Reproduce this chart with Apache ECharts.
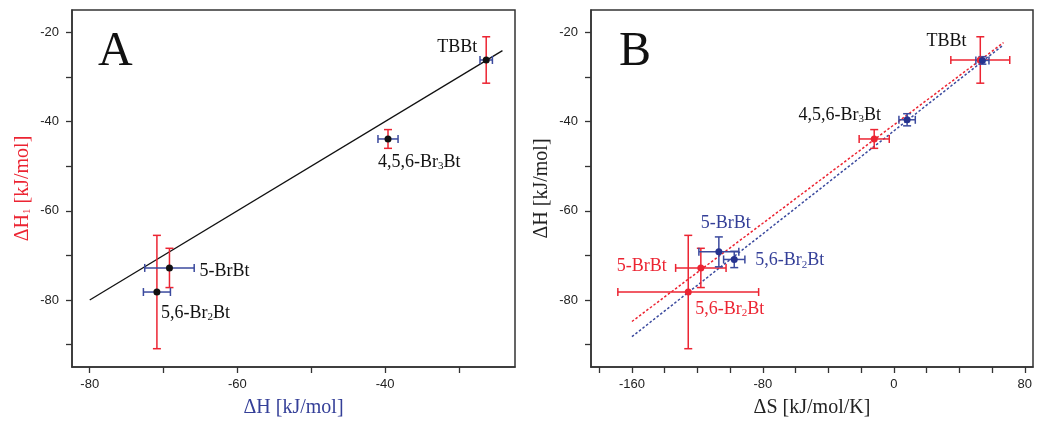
<!DOCTYPE html>
<html><head><meta charset="utf-8">
<script src="https://cdn.jsdelivr.net/npm/echarts@6/dist/echarts.min.js"></script>
<style>html,body{margin:0;padding:0;background:#fff}#c{width:1042px;height:423px}</style>
</head><body><div id="c"></div>
<script>
// ---------- data ----------
const compounds = ['TBBt', '4,5,6-Br{s|3}Bt', '5-BrBt', '5,6-Br{s|2}Bt'];
// Panel A: x = ΔH (blue), y = ΔH1 (red)
const dH     = [-26.3, -39.6, -69.2, -70.9];
const dHErr  = [0.84, 1.36, 3.35, 1.83];
const dH1    = [-26.2, -43.9, -72.8, -78.2];
const dH1Err = [5.2, 2.1, 4.4, 12.7];
// Panel B: red = (ΔS1, ΔH1), blue = (ΔS, ΔH)
const dS1    = [52.8, -12.0, -117.9, -125.6];
const dS1Err = [18, 9.2, 15.4, 43];
const dS     = [54.1, 8.1, -106.9, -97.5];
const dSErr  = [4, 5, 12.2, 6.5];
// fitted lines
const fitA_x = [-80, -24.1];
const fitA_y = [-80, -24.1];
const fitRed_x = [-160, 67];
const fitRed_y = [-84.8, -22.3];
const fitBlue_x = [-160, 67];
const fitBlue_y = [-88.2, -22.8];
// ticks
const ticksAx  = [-80, -70, -60, -50, -40, -30];
const labelsAx = [-80, -60, -40];
const ticksY   = [-90, -80, -70, -60, -50, -40, -30, -20];
const labelsY  = [-80, -60, -40, -20];
const ticksBx  = [-180, -160, -140, -120, -100, -80, -60, -40, -20, 0, 20, 40, 60, 80];
const labelsBx = [-160, -80, 0, 80];

// ---------- styles ----------
const RED = '#ec2432', BLUE = '#3b4a9e', BLUE_PT = '#26338f', BLUE_TXT = '#343f98';
const SERIF = 'Liberation Serif';
const SANS = 'Liberation Sans';

function richFor(color) {
  return { s: { fontSize: 11, fontFamily: SERIF, color: color, verticalAlign: 'bottom', lineHeight: 12,
    textBorderWidth: 0, textBorderColor: 'transparent' } };
}
function lbl(color, align, offset) {
  return { show: true, position: 'inside', align: align, verticalAlign: 'middle', offset: offset,
    formatter: p => p.data.name, color: color, fontFamily: SERIF, fontSize: 18, lineHeight: 20,
    opacity: 1, textBorderWidth: 0, textBorderColor: 'transparent', textShadowBlur: 0,
    rich: richFor(color) };
}
// label placement per compound (layout only)
const placeA = [['right', [-9, -13]], ['left', [-10, 23]], ['left', [30, 3]], ['left', [4, 21]]];
const placeBred = [null, null, ['right', [-34, -2]], ['left', [7, 17]]];
const placeBblue = [['right', [-16, -19]], ['right', [-26, -5]], ['center', [7, -29]], ['left', [21, 1]]];
const colBblue = ['#111', '#111', BLUE_TXT, BLUE_TXT];

function errRender(dir, color) {
  return function (params, api) {
    const x = api.value(0), y = api.value(1), e = api.value(2);
    let p1, p2;
    if (dir === 'v') { p1 = api.coord([x, y - e]); p2 = api.coord([x, y + e]); }
    else { p1 = api.coord([x - e, y]); p2 = api.coord([x + e, y]); }
    const st = { stroke: color, lineWidth: 1.5 };
    const c = 4;
    const ch = [{ type: 'line', shape: { x1: p1[0], y1: p1[1], x2: p2[0], y2: p2[1] }, style: st }];
    [p1, p2].forEach(p => {
      if (dir === 'v') ch.push({ type: 'line', shape: { x1: p[0] - c, y1: p[1], x2: p[0] + c, y2: p[1] }, style: st });
      else ch.push({ type: 'line', shape: { x1: p[0], y1: p[1] - c, x2: p[0], y2: p[1] + c }, style: st });
    });
    return { type: 'group', children: ch };
  };
}
function errSeries(gi, xs, ys, es, dir, color) {
  return { type: 'custom', xAxisIndex: gi, yAxisIndex: gi, renderItem: errRender(dir, color),
    encode: { x: 0, y: 1 }, data: xs.map((x, i) => [x, ys[i], es[i]]), z: 3, silent: true };
}
function lineSeries(gi, xs, ys, color, type, w) {
  return { type: 'line', xAxisIndex: gi, yAxisIndex: gi, data: xs.map((x, i) => [x, ys[i]]),
    showSymbol: false, symbol: 'none', lineStyle: { color: color, width: w, type: type }, z: 2, silent: true };
}

function xAxisCfg(gi, min, max, ticks, labels, name, nameColor) {
  return { type: 'value', gridIndex: gi, min: min, max: max,
    axisLine: { show: true, onZero: false, lineStyle: { color: '#333', width: 1.5 } },
    axisTick: { show: true, inside: false, length: 6, customValues: ticks, lineStyle: { color: '#333', width: 1.3 } },
    axisLabel: { show: true, customValues: labels, margin: 11, color: '#222', fontFamily: SANS, fontSize: 13 },
    splitLine: { show: false },
    name: name, nameLocation: 'middle', nameGap: 31,
    nameTextStyle: { color: nameColor, fontFamily: SERIF, fontSize: 20, rich: richFor(nameColor) } };
}
function yAxisCfg(gi, name, nameColor) {
  return { type: 'value', gridIndex: gi, min: -95, max: -15,
    axisLine: { show: true, onZero: false, lineStyle: { color: '#333', width: 1.5 } },
    axisTick: { show: true, inside: false, length: 6, customValues: ticksY, lineStyle: { color: '#333', width: 1.3 } },
    axisLabel: { show: true, customValues: labelsY, margin: 13, color: '#222', fontFamily: SANS, fontSize: 13 },
    splitLine: { show: false },
    name: name, nameLocation: 'middle', nameGap: 39, nameRotate: 90,
    nameTextStyle: { color: nameColor, fontFamily: SERIF, fontSize: 20, rich: richFor(nameColor) } };
}

const option = {
  animation: false,
  backgroundColor: '#fff',
  grid: [
    { left: 72, top: 10, width: 443, height: 359, show: true, borderColor: '#333', borderWidth: 1.5, backgroundColor: 'transparent' },
    { left: 591, top: 10, width: 442, height: 359, show: true, borderColor: '#333', borderWidth: 1.5, backgroundColor: 'transparent' }
  ],
  xAxis: [
    xAxisCfg(0, -82.4, -22.4, ticksAx, labelsAx, 'ΔH [kJ/mol]', BLUE_TXT),
    xAxisCfg(1, -185, 85, ticksBx, labelsBx, 'ΔS [kJ/mol/K]', '#222')
  ],
  yAxis: [
    yAxisCfg(0, 'ΔH{s|1} [kJ/mol]', RED),
    yAxisCfg(1, 'ΔH [kJ/mol]', '#222')
  ],
  graphic: [
    { type: 'text', left: 98, top: 28, style: { text: 'A', font: '48px "Liberation Serif"', fill: '#111' } },
    { type: 'text', left: 619, top: 28, style: { text: 'B', font: '48px "Liberation Serif"', fill: '#111' } }
  ],
  series: [
    // Panel A
    lineSeries(0, fitA_x, fitA_y, '#111', 'solid', 1.3),
    errSeries(0, dH, dH1, dH1Err, 'v', RED),
    errSeries(0, dH, dH1, dHErr, 'h', BLUE),
    { type: 'scatter', xAxisIndex: 0, yAxisIndex: 0, symbol: 'circle', symbolSize: 7, z: 5,
      itemStyle: { color: '#111', opacity: 1 },
      data: dH.map((x, i) => ({ name: compounds[i], value: [x, dH1[i]], label: lbl('#111', placeA[i][0], placeA[i][1]) })) },
    // Panel B
    lineSeries(1, fitRed_x, fitRed_y, RED, [2.5, 2], 1.5),
    lineSeries(1, fitBlue_x, fitBlue_y, BLUE, [2.5, 2], 1.5),
    errSeries(1, dS1, dH1, dH1Err, 'v', RED),
    errSeries(1, dS1, dH1, dS1Err, 'h', RED),
    errSeries(1, dS, dH, dHErr, 'v', BLUE),
    errSeries(1, dS, dH, dSErr, 'h', BLUE),
    { type: 'scatter', xAxisIndex: 1, yAxisIndex: 1, symbol: 'circle', symbolSize: 7, z: 5,
      itemStyle: { color: RED, opacity: 1 },
      data: dS1.map((x, i) => ({ name: compounds[i], value: [x, dH1[i]],
        label: placeBred[i] ? lbl(RED, placeBred[i][0], placeBred[i][1]) : { show: false } })) },
    { type: 'scatter', xAxisIndex: 1, yAxisIndex: 1, symbol: 'circle', symbolSize: 7, z: 6,
      itemStyle: { color: BLUE_PT, opacity: 1 },
      data: dS.map((x, i) => ({ name: compounds[i], value: [x, dH[i]],
        label: lbl(colBblue[i], placeBblue[i][0], placeBblue[i][1]) })) }
  ]
};
const chart = echarts.init(document.getElementById('c'), null, { renderer: 'canvas' });
chart.setOption(option);
</script>
</body></html>
